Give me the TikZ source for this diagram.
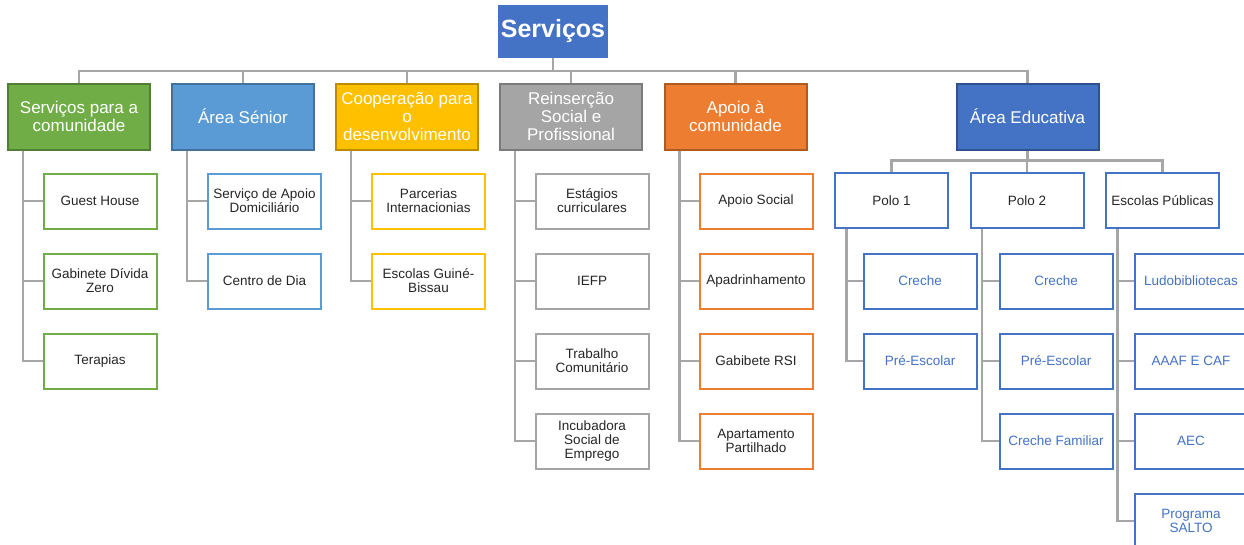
\documentclass[tikz,border=0pt]{standalone}
\usepackage{fontspec}
\setmainfont{Liberation Sans}
\definecolor{cblue}{HTML}{4472C4}
\definecolor{cblueD}{HTML}{2F528F}
\definecolor{cgreen}{HTML}{70AD47}
\definecolor{cgreenD}{HTML}{507E32}
\definecolor{csky}{HTML}{5B9BD5}
\definecolor{cskyD}{HTML}{41719C}
\definecolor{cgold}{HTML}{FFC000}
\definecolor{cgoldD}{HTML}{BC8C00}
\definecolor{cgray}{HTML}{A5A5A5}
\definecolor{cgrayD}{HTML}{7B7B7B}
\definecolor{corange}{HTML}{ED7D31}
\definecolor{corangeD}{HTML}{AE5A21}
\definecolor{clink}{HTML}{A6A6A6}
\definecolor{ctext}{HTML}{262626}
\tikzset{
  topbox/.style={fill=cblue, draw=none, minimum width=110pt, minimum height=53pt,
    inner sep=0pt, text=white, font=\fontsize{25}{28}\selectfont\bfseries},
  areabox/.style 2 args={fill=#1, draw=#2, line width=2pt, minimum width=142pt,
    minimum height=66pt, inner sep=0pt, text=white, align=center,
    font=\fontsize{17}{18}\selectfont},
  itembox/.style={fill=white, draw=#1, line width=2pt, minimum width=113pt,
    minimum height=55pt, inner sep=0pt, text=ctext, align=center,
    font=\fontsize{13.5}{14}\selectfont},
  subitem/.style={itembox=cblue, text=cblue},
  link/.style={draw=clink, line width=2.5pt}
}
\begin{document}
\begin{tikzpicture}[x=1pt,y=-1pt]
\useasboundingbox (0,0) rectangle (1244,544);
\clip (0,0) rectangle (1244,544);

% root
\node[topbox] (root) at (553,31.5) {Serviços};

% service areas
\node[areabox={cgreen}{cgreenD}] (s1) at (79,116.5) {Serviços para a\\comunidade};
\node[areabox={csky}{cskyD}] (s2) at (243,116.5) {Área Sénior};
\node[areabox={cgold}{cgoldD}] (s3) at (407,116.5) {Cooperação para\\o\\desenvolvimento};
\node[areabox={cgray}{cgrayD}] (s4) at (571,116.5) {Reinserção\\Social e\\Profissional};
\node[areabox={corange}{corangeD}] (s5) at (735.5,116.5) {Apoio à\\comunidade};
\node[areabox={cblue}{cblueD}] (s6) at (1027.5,116.5) {Área Educativa};

% Serviços para a comunidade
\node[itembox=cgreen] (a1) at (100,201) {Guest House};
\node[itembox=cgreen] (a2) at (100,281) {Gabinete Dívida\\Zero};
\node[itembox=cgreen] (a3) at (100,361) {Terapias};

% Área Sénior
\node[itembox=csky] (b1) at (264.5,201) {Serviço de Apoio\\Domiciliário};
\node[itembox=csky] (b2) at (264.5,281) {Centro de Dia};

% Cooperação
\node[itembox=cgold] (c1) at (428.5,201) {Parcerias\\Internacionias};
\node[itembox=cgold] (c2) at (428.5,281) {Escolas Guiné-\\Bissau};

% Reinserção
\node[itembox=cgray] (d1) at (592,201) {Estágios\\curriculares};
\node[itembox=cgray] (d2) at (592,281) {IEFP};
\node[itembox=cgray] (d3) at (592,361) {Trabalho\\Comunitário};
\node[itembox=cgray] (d4) at (592,441) {Incubadora\\Social de\\Emprego};

% Apoio à comunidade
\node[itembox=corange] (e1) at (756,201) {Apoio Social};
\node[itembox=corange] (e2) at (756,281) {Apadrinhamento};
\node[itembox=corange] (e3) at (756,361) {Gabibete RSI};
\node[itembox=corange] (e4) at (756,441) {Apartamento\\Partilhado};

% Área Educativa
\node[itembox=cblue] (p1) at (891.5,200.5) {Polo 1};
\node[itembox=cblue] (p2) at (1027,200.5) {Polo 2};
\node[itembox=cblue] (p3) at (1162.5,200.5) {Escolas Públicas};

\node[subitem] (q11) at (920,281) {Creche};
\node[subitem] (q12) at (920,361) {Pré-Escolar};
\node[subitem] (q21) at (1056,281) {Creche};
\node[subitem] (q22) at (1056,361) {Pré-Escolar};
\node[subitem] (q23) at (1056,441) {Creche Familiar};
\node[subitem] (q31) at (1191,281) {Ludobibliotecas};
\node[subitem] (q32) at (1191,361) {AAAF E CAF};
\node[subitem] (q33) at (1191,441) {AEC};
\node[subitem] (q34) at (1191,521) {Programa\\SALTO};

% connectors: root to areas
\foreach \s in {s1,s2,s3,s4,s5,s6}
  \draw[link] (root.south) -- ++(0,13) -| (\s.north);

% connectors: areas to items
\foreach \p/\list in {s1/{a1,a2,a3}, s2/{b1,b2}, s3/{c1,c2},
                      s4/{d1,d2,d3,d4}, s5/{e1,e2,e3,e4}}
  \foreach \c in \list
    \draw[link] ([xshift=16pt]\p.south west) |- (\c.west);

% connectors: Área Educativa to its units
\foreach \s in {p1,p2,p3}
  \draw[link] (s6.south) -- ++(0,10) -| (\s.north);

\foreach \p/\list in {p1/{q11,q12}, p2/{q21,q22,q23}, p3/{q31,q32,q33,q34}}
  \foreach \c in \list
    \draw[link] ([xshift=12.5pt]\p.south west) |- (\c.west);
\end{tikzpicture}
\end{document}
